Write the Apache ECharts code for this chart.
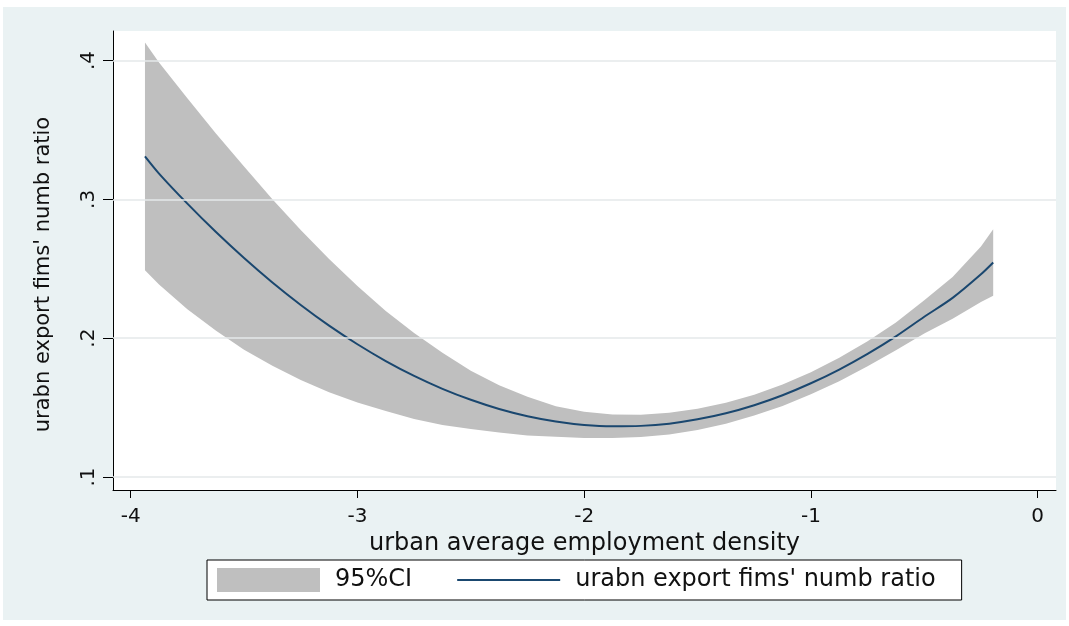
<!DOCTYPE html>
<html>
<head>
<meta charset="utf-8">
<script src="https://cdn.jsdelivr.net/npm/echarts@6/dist/echarts.min.js"></script>
<style>
  html, body { margin: 0; padding: 0; background: #ffffff; }
  #chart { width: 1069px; height: 626px; }
</style>
</head>
<body>
<div id="chart"></div>
<script>
// ---- data ----
const xValues = [-3.937, -3.875, -3.75, -3.625, -3.5, -3.375, -3.25, -3.125, -3.0, -2.875, -2.75, -2.625, -2.5, -2.375, -2.25, -2.125, -2.0, -1.875, -1.75, -1.625, -1.5, -1.375, -1.25, -1.125, -1.0, -0.875, -0.75, -0.625, -0.5, -0.375, -0.25, -0.196];
const fitValues = [0.331, 0.3186, 0.2969, 0.2766, 0.2577, 0.2401, 0.2239, 0.2090, 0.1956, 0.1835, 0.1728, 0.1635, 0.1556, 0.1490, 0.1438, 0.1400, 0.1375, 0.1365, 0.1368, 0.1384, 0.1415, 0.1459, 0.1517, 0.1589, 0.1675, 0.1774, 0.1887, 0.2013, 0.2154, 0.2290, 0.2460, 0.2545];
const upperValues = [0.413, 0.3986, 0.3729, 0.3476, 0.3237, 0.3001, 0.2779, 0.2570, 0.2376, 0.2195, 0.2038, 0.1895, 0.1766, 0.1660, 0.1578, 0.1510, 0.1470, 0.1450, 0.1448, 0.1462, 0.1491, 0.1534, 0.1592, 0.1666, 0.1755, 0.1859, 0.1977, 0.2113, 0.2274, 0.2440, 0.2660, 0.2785];
const lowerValues = [0.249, 0.2386, 0.2209, 0.2056, 0.1917, 0.1801, 0.1699, 0.1610, 0.1536, 0.1475, 0.1418, 0.1375, 0.1346, 0.1320, 0.1298, 0.1290, 0.1280, 0.1280, 0.1288, 0.1306, 0.1339, 0.1384, 0.1442, 0.1512, 0.1595, 0.1689, 0.1797, 0.1913, 0.2034, 0.2140, 0.2260, 0.2305];
const xTickValues = [-4, -3, -2, -1, 0];
const yTickValues = [0.1, 0.2, 0.3, 0.4];
const ciName = '95%CI';
const fitName = "urabn export fims' numb ratio";
const xTitle = 'urban average employment density';
const yTitle = "urabn export fims' numb ratio";

const FONT = 'DejaVu Sans';
const chart = echarts.init(document.getElementById('chart'), null, { renderer: 'canvas' });

// options built from the arrays above
const bandData = xValues.map((x, i) => [x, lowerValues[i], upperValues[i]]);
const fitData = xValues.map((x, i) => [x, fitValues[i]]);

const option = {
  backgroundColor: '#ffffff',
  animation: false,
  graphic: [{
    type: 'rect', z: -100, silent: true,
    shape: { x: 3, y: 7, width: 1063, height: 613 },
    style: { fill: '#eaf2f3' }
  }],
  grid: {
    left: 113, top: 31, right: 13, bottom: 136,
    show: true, backgroundColor: '#ffffff', borderWidth: 0
  },
  xAxis: {
    type: 'value', min: -4.078, max: 0.081,
    name: xTitle, nameLocation: 'middle', nameGap: 36,
    nameTextStyle: { fontFamily: FONT, fontSize: 24, color: '#111' },
    axisLine: { show: true, onZero: false, lineStyle: { color: '#000', width: 1 } },
    axisTick: { show: true, length: 8, lineStyle: { color: '#000' }, customValues: xTickValues },
    axisLabel: { fontFamily: FONT, fontSize: 20, color: '#111', margin: 17, customValues: xTickValues,
      formatter: v => String(v) },
    splitLine: { show: false }
  },
  yAxis: {
    type: 'value', min: 0.0906, max: 0.4213,
    name: yTitle, nameLocation: 'middle', nameGap: 59, nameRotate: 90,
    nameTextStyle: { fontFamily: FONT, fontSize: 21, color: '#111', padding: [0, 28, 0, 0] },
    axisLine: { show: true, onZero: false, lineStyle: { color: '#000', width: 1 } },
    axisTick: { show: true, length: 10, lineStyle: { color: '#000' }, customValues: yTickValues },
    axisLabel: { fontFamily: FONT, fontSize: 20, color: '#111', margin: 14, rotate: 90,
      customValues: yTickValues, formatter: v => v.toFixed(1).replace(/^0/, '') },
    splitLine: { show: false }
  },
  legend: {
    left: 207, top: 560,
    orient: 'horizontal',
    backgroundColor: '#ffffff', borderColor: '#000', borderWidth: 1,
    padding: [8, 26, 8, 10],
    itemWidth: 103, itemHeight: 24, itemGap: 45,
    textStyle: { fontFamily: FONT, fontSize: 24, color: '#111', padding: [0, 0, 0, 10] },
    data: [
      { name: ciName, icon: 'rect' },
      { name: fitName, icon: 'path://M0,0H100V2H0Z' }
    ],
    selectedMode: false
  },
  series: [
    {
      name: 'grid', type: 'line', data: [], z: 1, silent: true,
      markLine: {
        silent: true, symbol: 'none', label: { show: false },
        lineStyle: { color: '#e4e8ea', width: 1.5, type: 'solid' },
        data: yTickValues.map(v => ({ yAxis: v }))
      }
    },
    {
      name: ciName, type: 'custom', z: 2, silent: true,
      itemStyle: { color: '#bfbfbf' },
      encode: { x: 0, y: [1, 2] },
      data: bandData,
      renderItem: function (params, api) {
        if (params.dataIndex !== 0) return null;
        const up = [], lo = [];
        for (let i = 0; i < bandData.length; i++) {
          up.push(api.coord([bandData[i][0], bandData[i][2]]));
          lo.push(api.coord([bandData[i][0], bandData[i][1]]));
        }
        return {
          type: 'polygon',
          shape: { points: up.concat(lo.reverse()) },
          style: { fill: '#bfbfbf', stroke: null }
        };
      }
    },
    {
      name: fitName, type: 'line', z: 3, data: fitData,
      showSymbol: false, symbol: 'none', smooth: 0.3,
      lineStyle: { color: '#1a476f', width: 2 },
      itemStyle: { color: '#1a476f' }
    }
  ]
};
chart.setOption(option);
</script>
</body>
</html>
